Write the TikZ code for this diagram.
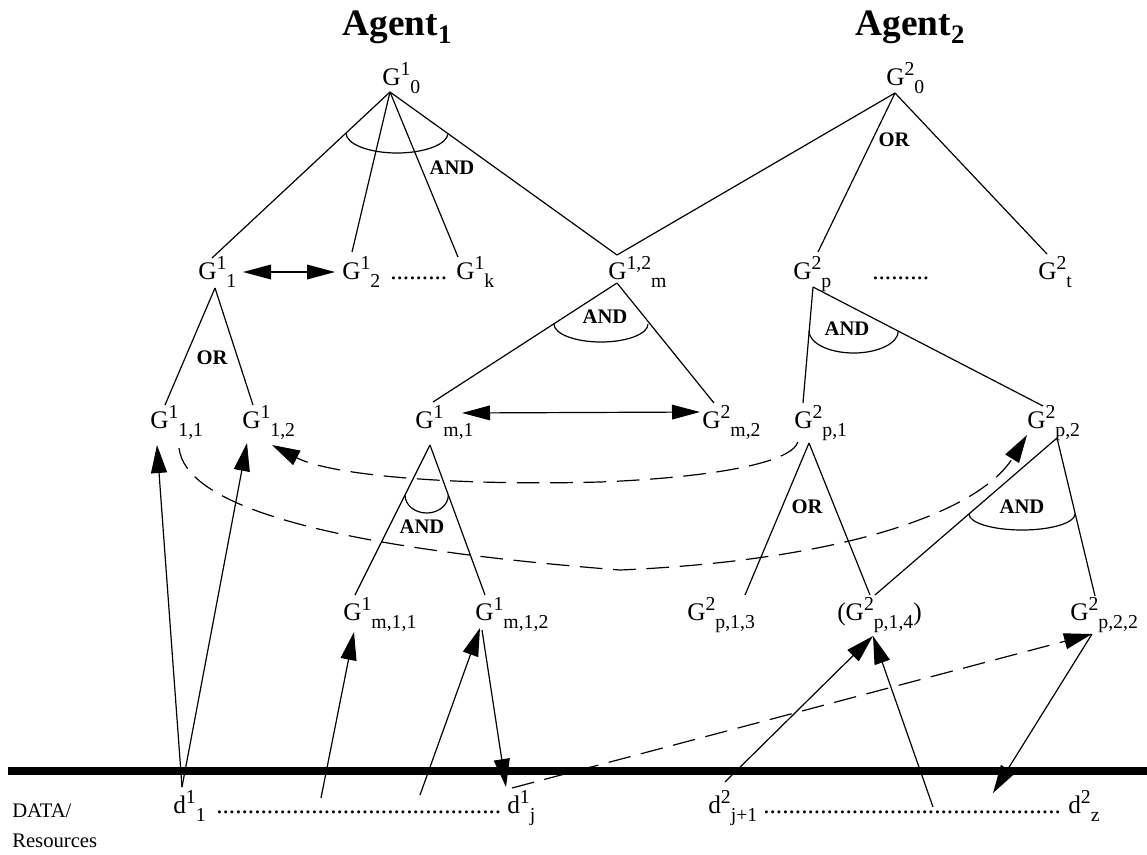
\documentclass[tikz,border=0pt]{standalone}
\usepackage{fontspec}
\setmainfont{Liberation Serif}
\usetikzlibrary{arrows.meta}

\newcommand{\goalsize}{\fontsize{19pt}{21pt}\selectfont}
\newcommand{\idxsize}{\fontsize{14.8pt}{15pt}\selectfont}
\newcommand{\gl}[3]{#1\raisebox{6.8pt}{\idxsize #2}\raisebox{-6pt}{\idxsize #3}}
\newcommand{\dotrun}[1]{\foreach \k in {1,...,#1}{.}}

\tikzstyle{goal} = [
    inner sep=0pt,
    anchor=base west,
    font=\goalsize
]
\tikzstyle{agent} = [
    inner sep=0pt,
    anchor=base,
    font=\fontsize{28pt}{30pt}\selectfont\bfseries
]
\tikzstyle{gate} = [
    inner sep=0pt,
    font=\fontsize{15.5pt}{16pt}\selectfont\bfseries
]
\tikzstyle{side} = [
    inner sep=0pt,
    anchor=base west,
    font=\fontsize{15.5pt}{16pt}\selectfont
]
\tikzstyle{link} = [
    line width=0.9pt
]
\tikzstyle{support} = [
    link,
    -{Triangle[length=21pt,width=12pt]}
]
\tikzstyle{mutual} = [
    link,
    {Triangle[length=21pt,width=11pt]}-{Triangle[length=21pt,width=11pt]}
]
\tikzstyle{crossdep} = [
    support,
    dash pattern=on 17pt off 8pt
]
\tikzstyle{bus} = [
    line width=5.5pt
]

\begin{document}
\begin{tikzpicture}[x=0.75pt, y=-0.75pt]
        \useasboundingbox (0,0) rectangle (1147,854);

        % Agent titles
        \node[agent] (agent1) at (397,35) {Agent\raisebox{-6.5pt}{\fontsize{20pt}{20pt}\selectfont 1}};
        \node[agent] (agent2) at (910,35) {Agent\raisebox{-6.5pt}{\fontsize{20pt}{20pt}\selectfont 2}};

        % Root goals
        \node[goal] (g10) at (382,85) {\gl{G}{1}{0}};
        \node[goal] (g20) at (886,85) {\gl{G}{2}{0}};

        % Second level
        \node[goal] (g11) at (198,279) {\gl{G}{1}{1}};
        \node[goal] (g12) at (342,279) {\gl{G}{1}{2}};
        \node[goal] (dots1) at (390,279) {\dotrun{9}};
        \node[goal] (g1k) at (456,279) {\gl{G}{1}{k}};
        \node[goal] (g12m) at (608,279) {\gl{G}{1,2}{m}};
        \node[goal] (g2p) at (793,279) {\gl{G}{2}{p}};
        \node[goal] (dots2) at (872,279) {\dotrun{9}};
        \node[goal] (g2t) at (1038,279) {\gl{G}{2}{t}};

        % Third level
        \node[goal] (g111) at (150,428) {\gl{G}{1}{1,1}};
        \node[goal] (g112) at (242,428) {\gl{G}{1}{1,2}};
        \node[goal] (gm1) at (415,428) {\gl{G}{1}{m,1}};
        \node[goal] (gm2) at (702,428) {\gl{G}{2}{m,2}};
        \node[goal] (gp1) at (794,428) {\gl{G}{2}{p,1}};
        \node[goal] (gp2) at (1027,428) {\gl{G}{2}{p,2}};

        % Fourth level
        \node[goal] (gm11) at (343,620) {\gl{G}{1}{m,1,1}};
        \node[goal] (gm12) at (475,620) {\gl{G}{1}{m,1,2}};
        \node[goal] (gp13) at (687,620) {\gl{G}{2}{p,1,3}};
        \node[goal] (gp14) at (837,620) {(\gl{G}{2}{p,1,4})};
        \node[goal] (gp22) at (1070,620) {\gl{G}{2}{p,2,2}};

        % Data row
        \node[goal] (d11) at (173,813) {\gl{d}{1}{1}};
        \node[goal] (dots3) at (216,813) {\dotrun{45}};
        \node[goal] (d1j) at (507,813) {\gl{d}{1}{j}};
        \node[goal] (d2j) at (708,813) {\gl{d}{2}{j+1}};
        \node[goal] (dots4) at (763,813) {\dotrun{47}};
        \node[goal] (d2z) at (1068,813) {\gl{d}{2}{z}};
        \node[side] (data) at (12,817) {DATA/};
        \node[side] (res) at (12,847) {Resources};

        % Gate labels
        \node[gate] (and10) at (452,168) {AND};
        \node[gate] (or20) at (894,140) {OR};
        \node[gate] (or11) at (212,358) {OR};
        \node[gate] (and12m) at (605,317) {AND};
        \node[gate] (and2p) at (847,329) {AND};
        \node[gate] (andm1) at (422,527) {AND};
        \node[gate] (orp1) at (807,507) {OR};
        \node[gate] (andp2) at (1022,507) {AND};

        % Ports
        \coordinate (g10b) at (390,92);
        \coordinate (g20b) at (895,93);
        \coordinate (g11t) at (212,258);
        \coordinate (g11b) at (215,288);
        \coordinate (g11e) at (243,272);
        \coordinate (g12w) at (335,272);
        \coordinate (g12t) at (352,252);
        \coordinate (g1kt) at (458,257);
        \coordinate (g12mt) at (617,255);
        \coordinate (g12mb) at (617,283);
        \coordinate (g2pt) at (818,252);
        \coordinate (g2pb) at (813,287);
        \coordinate (g2tt) at (1047,254);
        \coordinate (g111t) at (165,405);
        \coordinate (g111a) at (157,445);
        \coordinate (g111c) at (179,448);
        \coordinate (g112t) at (253,405);
        \coordinate (g112a) at (247,443);
        \coordinate (g112c) at (272,445);
        \coordinate (gm1t) at (433,402);
        \coordinate (gm1b) at (430,445);
        \coordinate (gm1e) at (462,413);
        \coordinate (gm2t) at (714,403);
        \coordinate (gm2w) at (700,412);
        \coordinate (gp1t) at (803,403);
        \coordinate (gp1b) at (809,443);
        \coordinate (gp1c) at (798,442);
        \coordinate (gp2t) at (1043,406);
        \coordinate (gp2b) at (1057,438);
        \coordinate (gp2c) at (1027,435);
        \coordinate (gm11t) at (355,595);
        \coordinate (gm11a) at (354,632);
        \coordinate (gm12t) at (485,595);
        \coordinate (gm12a) at (480,628);
        \coordinate (gm12d) at (482,630);
        \coordinate (gp13t) at (745,595);
        \coordinate (gp14t) at (870,595);
        \coordinate (gp14r) at (875,595);
        \coordinate (gp14a) at (873,636);
        \coordinate (gp22t) at (1095,596);
        \coordinate (gp22a) at (1092,634);
        \coordinate (d11t) at (182,787);
        \coordinate (d1jt) at (506,787);
        \coordinate (d1jd) at (512,788);
        \coordinate (d2jt) at (725,782);
        \coordinate (f1) at (321,798);
        \coordinate (f2) at (420,795);
        \coordinate (f3) at (933,807);
        \coordinate (f4) at (993,793);
        \coordinate (busL) at (8,771);
        \coordinate (busR) at (1147,771);

        % Agent 1 tree
        \draw[link] (g10b) -- (g11t);
        \draw[link] (g10b) -- (g12t);
        \draw[link] (g10b) -- (g1kt);
        \draw[link] (g10b) -- (g12mt);
        \draw[link] (346,133) arc[start angle=180, end angle=360, x radius=38.25pt, y radius=15pt];
        \draw[link] (g11b) -- (g111t);
        \draw[link] (g11b) -- (g112t);
        \draw[link] (g12mb) -- (gm1t);
        \draw[link] (g12mb) -- (gm2t);
        \draw[link] (554,324) arc[start angle=180, end angle=360, x radius=35.25pt, y radius=13.5pt];
        \draw[link] (gm1b) -- (gm11t);
        \draw[link] (gm1b) -- (gm12t);
        \draw[link] (405,495) arc[start angle=180, end angle=360, x radius=16.25pt, y radius=13.5pt];

        % Agent 2 tree
        \draw[link] (g20b) -- (g12mt);
        \draw[link] (g20b) -- (g2pt);
        \draw[link] (g20b) -- (g2tt);
        \draw[link] (g2pb) -- (gp1t);
        \draw[link] (g2pb) -- (gp2t);
        \draw[link] (809,331) arc[start angle=180, end angle=360, x radius=33.5pt, y radius=16.5pt];
        \draw[link] (gp1b) -- (gp13t);
        \draw[link] (gp1b) -- (gp14t);
        \draw[link] (gp2b) -- (gp14r);
        \draw[link] (gp2b) -- (gp22t);
        \draw[link] (969,514) arc[start angle=180, end angle=360, x radius=39.75pt, y radius=12pt];

        % Mutual links
        \draw[mutual] (g11e) -- (g12w);
        \draw[mutual] (gm1e) -- (gm2w);

        % Data bus
        \draw[bus] (busL) -- (busR);

        % Data supports
        \draw[support] (d11t) -- (g111a);
        \draw[support] (d11t) -- (g112a);
        \draw[support] (f1) -- (gm11a);
        \draw[support] (f2) -- (gm12a);
        \draw[support] (gm12d) -- (d1jt);
        \draw[support] (d2jt) -- (gp14a);
        \draw[support] (f3) -- (gp14a);
        \draw[support] (gp22a) -- (f4);

        % Cross-agent dependencies
        \draw[crossdep] (d1jd) -- (gp22a);
        \draw[crossdep] (gp1c) .. controls (790,465) and (700,478) .. (600,482)
            .. controls (450,486) and (330,475) .. (g112c);
        \draw[crossdep] (g111c) .. controls (185,500) and (300,545) .. (620,570)
            .. controls (850,560) and (980,510) .. (gp2c);
    \end{tikzpicture}
\end{document}
